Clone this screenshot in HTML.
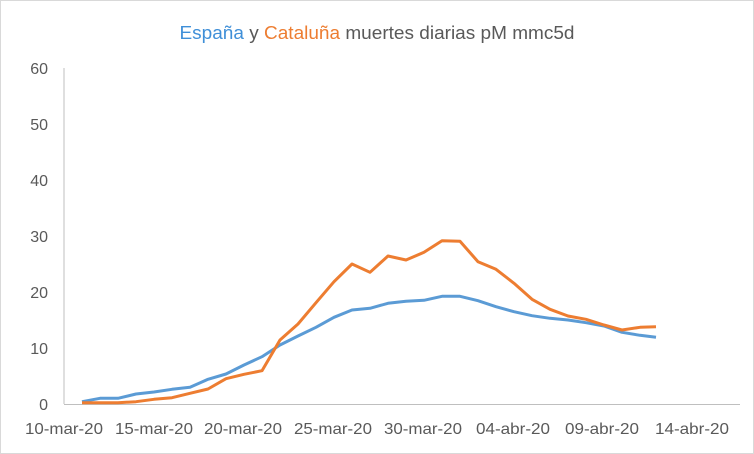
<!DOCTYPE html>
<html><head><meta charset="utf-8"><style>
body{margin:0;background:#fff}
svg{display:block;font-family:"Liberation Sans",Calibri,sans-serif}
</style></head><body>
<svg width="754" height="454" viewBox="0 0 754 454">
<rect x="0.5" y="0.5" width="753" height="453" fill="#fff" stroke="#d9d9d9"/>
<text x="377" y="39" text-anchor="middle" font-size="18.5" fill="#595959" textLength="395" lengthAdjust="spacingAndGlyphs"><tspan fill="#3f8fd8">España</tspan> y <tspan fill="#ed7d31">Cataluña</tspan> muertes diarias pM mmc5d</text>
<g font-size="16" fill="#595959" text-anchor="end">
<text x="48" y="410">0</text><text x="48" y="354">10</text><text x="48" y="298">20</text>
<text x="48" y="242">30</text><text x="48" y="186">40</text><text x="48" y="130">50</text><text x="48" y="74">60</text>
</g>
<g font-size="16" fill="#595959" text-anchor="middle">
<text x="64" y="434" textLength="78" lengthAdjust="spacingAndGlyphs">10-mar-20</text>
<text x="154" y="434" textLength="78" lengthAdjust="spacingAndGlyphs">15-mar-20</text>
<text x="243" y="434" textLength="78" lengthAdjust="spacingAndGlyphs">20-mar-20</text>
<text x="333" y="434" textLength="78" lengthAdjust="spacingAndGlyphs">25-mar-20</text>
<text x="423" y="434" textLength="78" lengthAdjust="spacingAndGlyphs">30-mar-20</text>
<text x="513" y="434" textLength="74" lengthAdjust="spacingAndGlyphs">04-abr-20</text>
<text x="602" y="434" textLength="74" lengthAdjust="spacingAndGlyphs">09-abr-20</text>
<text x="692" y="434" textLength="74" lengthAdjust="spacingAndGlyphs">14-abr-20</text>
</g>
<line x1="64" y1="68" x2="64" y2="404" stroke="#bfbfbf"/>
<line x1="64" y1="404.5" x2="740" y2="404.5" stroke="#bfbfbf"/>
<polyline fill="none" stroke="#5b9bd5" stroke-width="3" stroke-linejoin="round" points="82,401.7 100,398.3 118,398.3 136,394 154,392 172,389.3 190,387.3 208,379.3 226,374 244,365 262,356.7 280,345 298,336 316,327.3 334,317.3 352,310 370,308.3 388,303.3 406,301.3 424,300.3 442,296.3 460,296.3 478,300.7 496,306.7 514,311.7 532,315.7 550,318.3 568,320 586,322.7 604,326 622,332.3 640,335.3 656,337.3"/>
<polyline fill="none" stroke="#ed7d31" stroke-width="3" stroke-linejoin="round" points="82,402.7 100,402.7 118,402.7 136,401.7 154,399.3 172,397.7 190,393.3 208,389 226,378.7 244,374.3 262,370.7 280,340 298,324 316,302.7 334,281.7 352,264 370,272.3 388,256 406,260 424,252.3 442,240.7 460,241.3 478,261.7 496,269.3 514,283.3 532,299.3 550,309.3 568,316 586,319.3 604,325 622,330 640,327.3 656,326.7"/>
</svg>
</body></html>
